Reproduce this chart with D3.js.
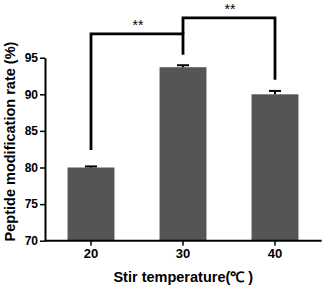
<!DOCTYPE html>
<html>
<head>
<meta charset="utf-8">
<script src="https://cdn.jsdelivr.net/npm/d3@7"></script>
<style>
  body { margin: 0; background: #fff; }
  svg { display: block; }
</style>
</head>
<body>
<div id="chart"></div>
<script>
const temps = ["20", "30", "40"];
const rates = [80.0, 93.7, 90.0];
const errs = [0.15, 0.27, 0.46];
const yTicks = [70, 75, 80, 85, 90, 95];

// significance brackets: [from, to, top value, left leg end, right leg end, label]
const brFrom = ["20", "30"];
const brTo = ["30", "40"];
const brTop = [98.25, 100.45];
const brLeftEnd = [82.4, 98.25];
const brRightEnd = [95.4, 92.0];
const brLabel = ["**", "**"];

const width = 324;
const height = 289;

const svg = d3.select("#chart")
    .append("svg")
    .attr("width", width)
    .attr("height", height);

const x = d3.scaleBand()
    .domain(temps)
    .range([45, 321])
    .paddingInner(0.49)
    .paddingOuter(0.245);

const y = d3.scaleLinear()
    .domain([70, 95])
    .range([240.7, 57.7]);

// bars
svg.selectAll("rect.bar")
    .data(temps)
    .join("rect")
    .attr("class", "bar")
    .attr("x", d => x(d))
    .attr("width", x.bandwidth())
    .attr("y", (d, i) => y(rates[i]))
    .attr("height", (d, i) => y(70) - y(rates[i]))
    .attr("fill", "#555555");

// error bars (only upper half shows)
const cx = d => x(d) + x.bandwidth() / 2;
svg.selectAll("line.err")
    .data(temps)
    .join("line")
    .attr("x1", cx).attr("x2", cx)
    .attr("y1", (d, i) => y(rates[i]))
    .attr("y2", (d, i) => y(rates[i] + errs[i]))
    .attr("stroke", "#000")
    .attr("stroke-width", 2);

svg.selectAll("line.cap")
    .data(temps)
    .join("line")
    .attr("x1", d => cx(d) - 6).attr("x2", d => cx(d) + 6)
    .attr("y1", (d, i) => y(rates[i] + errs[i]))
    .attr("y2", (d, i) => y(rates[i] + errs[i]))
    .attr("stroke", "#000")
    .attr("stroke-width", 2);

// axes
const yAxis = svg.append("g")
    .attr("transform", "translate(45,0)")
    .call(d3.axisLeft(y).tickValues(yTicks).tickSize(5).tickPadding(2).tickSizeOuter(0));

const xAxis = svg.append("g")
    .attr("transform", `translate(0,${y(70)})`)
    .call(d3.axisBottom(x).tickSize(5).tickPadding(3).tickSizeOuter(0));

[yAxis, xAxis].forEach(g => {
    g.select(".domain").attr("stroke", "#000").attr("stroke-width", 2);
    g.selectAll(".tick line").attr("stroke", "#000").attr("stroke-width", 1.5);
    g.selectAll(".tick text")
        .attr("fill", "#000")
        .attr("font-family", "Liberation Sans, Arial, sans-serif")
        .attr("font-weight", "bold");
});
yAxis.selectAll(".tick text").attr("font-size", "12px");
xAxis.selectAll(".tick text").attr("font-size", "13px");
xAxis.select(".domain").attr("d", `M45,0H321.7`);

// significance brackets
const brackets = brFrom.map((f, i) => ({
    x1: cx(f), x2: cx(brTo[i]),
    top: y(brTop[i]), l: y(brLeftEnd[i]), r: y(brRightEnd[i]),
    label: brLabel[i]
}));

svg.selectAll("path.br")
    .data(brackets)
    .join("path")
    .attr("d", d => `M${d.x1},${d.l}V${d.top}H${d.x2}V${d.r}`)
    .attr("fill", "none")
    .attr("stroke", "#000")
    .attr("stroke-width", 2.8);

svg.selectAll("text.star")
    .data(brackets)
    .join("text")
    .attr("x", d => (d.x1 + d.x2) / 2 + 1)
    .attr("y", d => d.top - 4)
    .attr("text-anchor", "middle")
    .attr("font-family", "Liberation Sans, Arial, sans-serif")
    .attr("font-size", "14px")
    .attr("fill", "#000")
    .text(d => d.label);

// axis titles
svg.append("text")
    .attr("transform", "translate(15,141.5) rotate(-90)")
    .attr("text-anchor", "middle")
    .attr("font-family", "Liberation Sans, Arial, sans-serif")
    .attr("font-weight", "bold")
    .attr("font-size", "14.5px")
    .attr("fill", "#000")
    .text("Peptide modification rate (%)");

svg.append("text")
    .attr("x", 183.3)
    .attr("y", 281.5)
    .attr("text-anchor", "middle")
    .attr("font-family", "Liberation Sans, Arial, sans-serif")
    .attr("font-weight", "bold")
    .attr("font-size", "14.5px")
    .attr("fill", "#000")
    .text("Stir temperature(℃ )");
</script>
</body>
</html>
